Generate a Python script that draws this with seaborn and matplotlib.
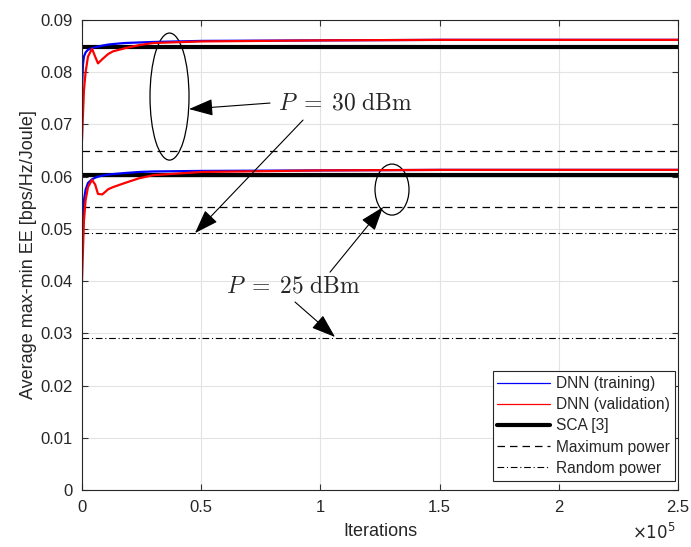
import matplotlib
matplotlib.use('Agg')
import matplotlib.pyplot as plt
import seaborn as sns
import numpy as np
from matplotlib.lines import Line2D
from matplotlib.patches import Ellipse

iters = [0, 400, 800, 1500, 2500, 4200, 5500, 6700, 8500, 11000, 13000,
         18000, 24000, 30000, 50000, 100000, 150000, 200000, 250000]

# P = 30 dBm
train_30 = [0.0770, 0.0815, 0.0830, 0.0838, 0.0843, 0.0846, 0.0848, 0.0849, 0.0851, 0.0853,
            0.0854, 0.0856, 0.0857, 0.0858, 0.0860, 0.0861, 0.0862, 0.0862, 0.0862]
valid_30 = [0.0670, 0.0720, 0.0765, 0.0800, 0.0830, 0.0845, 0.0830, 0.0817, 0.0825, 0.0835,
            0.0840, 0.0846, 0.0852, 0.0856, 0.0859, 0.0861, 0.0862, 0.0862, 0.0862]
# P = 25 dBm
train_25 = [0.0490, 0.0530, 0.0555, 0.0575, 0.0588, 0.0595, 0.0598, 0.0600, 0.0602, 0.0604,
            0.0605, 0.0607, 0.0609, 0.0610, 0.0611, 0.0612, 0.0613, 0.0613, 0.0613]
valid_25 = [0.0400, 0.0460, 0.0515, 0.0555, 0.0580, 0.0594, 0.0585, 0.0567, 0.0566, 0.0576,
            0.0580, 0.0588, 0.0597, 0.0603, 0.0609, 0.0612, 0.0613, 0.0613, 0.0613]

sca = {'30': 0.0848, '25': 0.0603}
max_power = {'30': 0.0649, '25': 0.0542}
rand_power = {'30': 0.0492, '25': 0.0291}

x_ticks = [0, 50000, 100000, 150000, 200000, 250000]
x_tick_labels = ['0', '0.5', '1', '1.5', '2', '2.5']
y_ticks = np.arange(0, 0.0901, 0.01)
y_tick_labels = ['0', '0.01', '0.02', '0.03', '0.04', '0.05', '0.06', '0.07', '0.08', '0.09']

sns.set_style('whitegrid')
plt.rcParams['font.family'] = ['Liberation Sans', 'DejaVu Sans']
plt.rcParams['mathtext.fontset'] = 'cm'

fig = plt.figure(figsize=(6.91, 5.47), dpi=100)
ax = fig.add_axes([0.1187, 0.1042, 0.8625, 0.8592])

dash = (0, (6, 4))
dashdot = (0, (6, 2.5, 1, 2.5))
x_full = [0, 250000]
for key in ['30', '25']:
    sns.lineplot(x=x_full, y=[max_power[key]] * 2, ax=ax, color='k', lw=0.9, linestyle=dash)
    sns.lineplot(x=x_full, y=[rand_power[key]] * 2, ax=ax, color='k', lw=0.8, linestyle=dashdot)
    sns.lineplot(x=x_full, y=[sca[key]] * 2, ax=ax, color='k', lw=3)

for tr, va in [(train_30, valid_30), (train_25, valid_25)]:
    sns.lineplot(x=iters, y=tr, ax=ax, color='blue', lw=1.6)
    sns.lineplot(x=iters, y=va, ax=ax, color='red', lw=1.6)

ax.set_xlim(0, 250000)
ax.set_ylim(0, 0.09)
ax.set_xticks(x_ticks)
ax.set_xticklabels(x_tick_labels)
ax.set_yticks(y_ticks)
ax.set_yticklabels(y_tick_labels)
ax.tick_params(direction='in', labelsize=12, length=4, color='#333333',
               top=True, right=True, bottom=True, left=True)
ax.tick_params(axis='x', pad=7)
ax.tick_params(axis='y', pad=7)
ax.grid(True, color='#e3e3e3', lw=0.8)
for s in ax.spines.values():
    s.set_color('#262626')
    s.set_linewidth(0.8)
ax.set_xlabel('Iterations', fontsize=13, labelpad=6)
ax.set_ylabel('Average max-min EE [bps/Hz/Joule]', fontsize=13, labelpad=2)
fig.text(0.978, 0.008, r'$\times10^5$', fontsize=12, ha='right', va='bottom',
         family='DejaVu Sans', math_fontfamily='dejavusans')

# annotations
ax.add_patch(Ellipse((36700, 0.07534), 16360, 0.02433, fill=False, lw=0.9, color='k'))
ax.add_patch(Ellipse((130030, 0.05753), 14260, 0.00977, fill=False, lw=0.9, color='k'))

ax.text(110300, 0.0741, r'$P\;=\;30\ \mathrm{dBm}$', fontsize=17, ha='center', va='center')
ax.text(88500, 0.0389, r'$P\;=\;25\ \mathrm{dBm}$', fontsize=17, ha='center', va='center')

arrows = [((78860, 0.0741), (44880, 0.07295)),
          ((92700, 0.07084), (47400, 0.0492)),
          ((104030, 0.04172), (126260, 0.05418)),
          ((89350, 0.0360), (106130, 0.0293))]
for start, tip in arrows:
    ax.annotate('', xy=tip, xytext=start,
                arrowprops=dict(arrowstyle='-|>,head_length=1.0,head_width=0.35',
                                mutation_scale=15, color='k', lw=0.8,
                                shrinkA=0, shrinkB=0))

handles = [Line2D([], [], color='blue', lw=0.9),
           Line2D([], [], color='red', lw=0.9),
           Line2D([], [], color='k', lw=3),
           Line2D([], [], color='k', lw=0.9, linestyle=dash),
           Line2D([], [], color='k', lw=0.8, linestyle=dashdot)]
labels = ['DNN (training)', 'DNN (validation)', 'SCA [3]', 'Maximum power', 'Random power']
leg = ax.legend(handles, labels, loc='lower right', bbox_to_anchor=(0.995, 0.02),
                fontsize=11.2, frameon=True, fancybox=False, edgecolor='#262626',
                framealpha=1, handlelength=3.4, handletextpad=0.4, borderpad=0.3,
                labelspacing=0.4, borderaxespad=0)
leg.get_frame().set_linewidth(0.8)

fig.savefig('out.png', dpi=100)
